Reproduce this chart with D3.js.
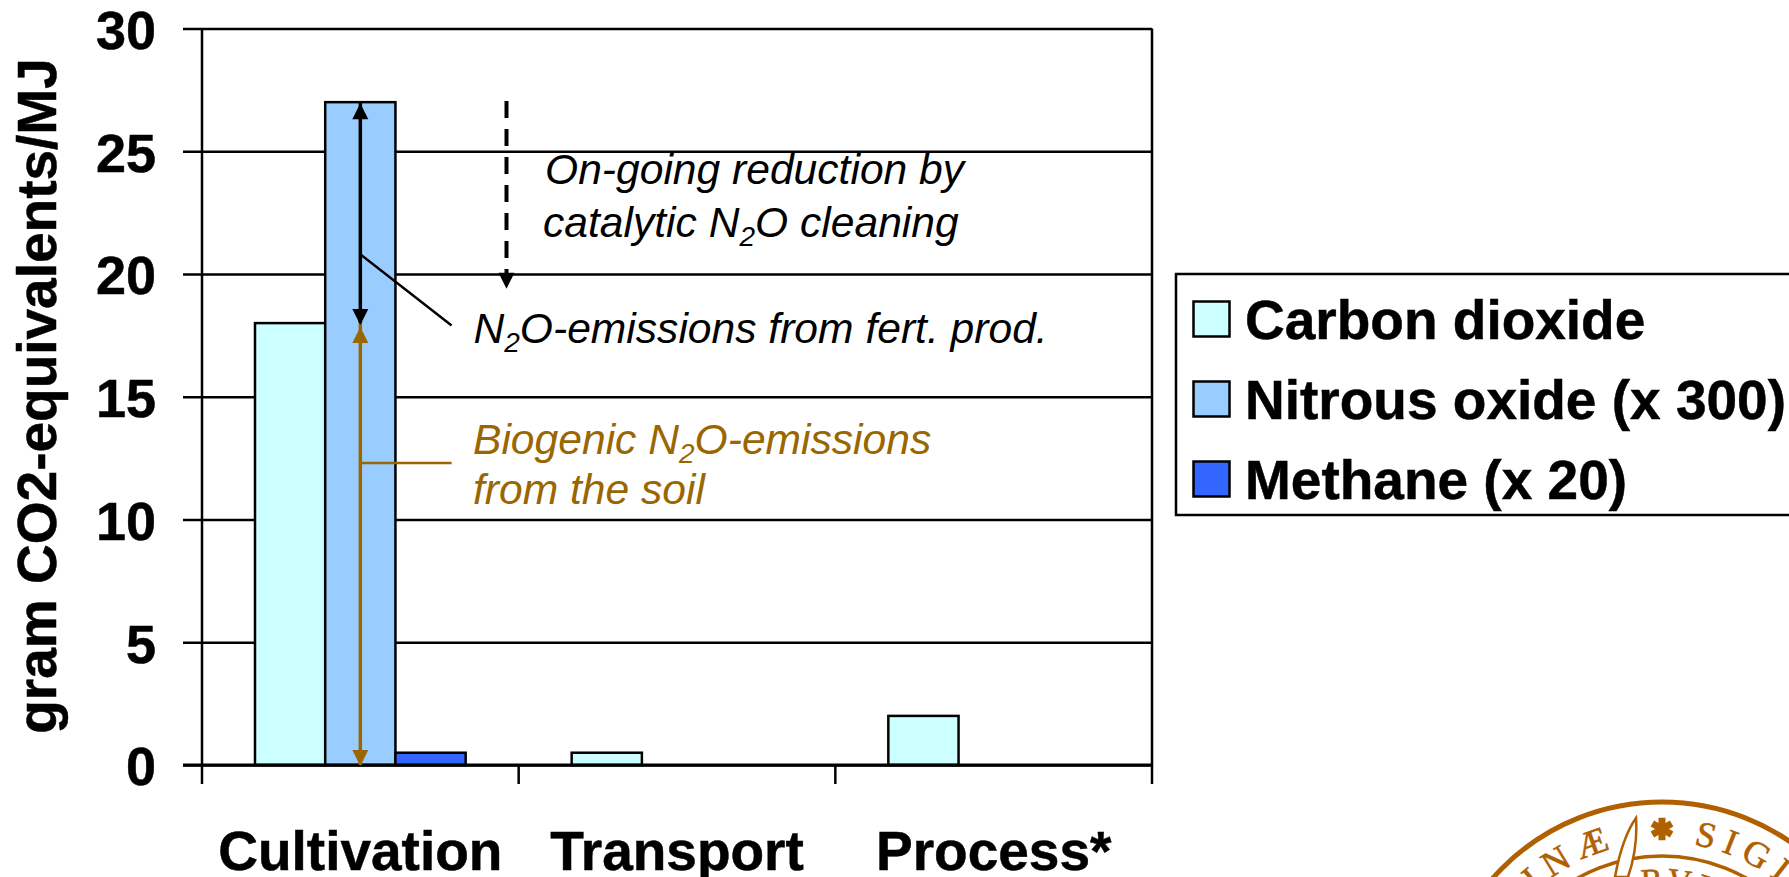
<!DOCTYPE html>
<html>
<head>
<meta charset="utf-8">
<script src="https://cdn.jsdelivr.net/npm/d3@7"></script>
<style>
  html, body { margin: 0; padding: 0; background: #fff; overflow: hidden; }
  svg { display: block; }
  text { font-family: "Liberation Sans", Arial, sans-serif; }
  .bold { font-weight: bold; stroke: #000; stroke-width: 0.5px; }
  .note { font-style: italic; font-size: 42.6px; }
</style>
</head>
<body>
<div class="chart"></div>
<script>
const categories = ["Cultivation", "Transport", "Process*"];
const seriesNames = ["Carbon dioxide", "Nitrous oxide (x 300)", "Methane (x 20)"];
const seriesKeys = ["co2", "n2o", "ch4"];
const co2Values = [18, 0.5, 2];
const n2oValues = [27, 0, 0];
const ch4Values = [0.5, 0, 0];
const yTicks = [0, 5, 10, 15, 20, 25, 30];
const yTitle = "gram CO2-equivalents/MJ";
const colors = ["#CCFFFF", "#99CCFF", "#3366FF"];
const brown = "#996600";

const width = 1789, height = 877;
const margin = { top: 28.5, right: 637, bottom: 112, left: 202 };

const svg = d3.select(".chart").append("svg")
    .attr("width", width)
    .attr("height", height);

const x0 = d3.scaleBand()
    .domain(categories)
    .range([margin.left, width - margin.right]);

const x1 = d3.scaleBand()
    .domain(seriesKeys)
    .range([53, x0.bandwidth() - 53]);

const y = d3.scaleLinear()
    .domain([0, 30])
    .range([height - margin.bottom, margin.top]);

const plotRight = width - margin.right;
const plotBottom = y(0);

// y axis + grid
svg.append("g")
    .attr("transform", `translate(${margin.left},0)`)
    .call(d3.axisLeft(y).tickValues(yTicks).tickSize(19).tickPadding(27))
    .call(g => g.select(".domain").remove())
    .call(g => g.selectAll(".tick line")
        .attr("stroke", "#000")
        .attr("stroke-width", 2.5))
    .call(g => g.selectAll(".tick line").clone()
        .attr("x1", 0)
        .attr("x2", plotRight - margin.left))
    .call(g => g.selectAll(".tick text")
        .attr("class", "bold")
        .attr("fill", "#000")
        .attr("dy", "0.37em")
        .style("font-size", "54px"));

// frame
svg.append("path")
    .attr("d", `M${margin.left},${y(30)}V${plotBottom}M${plotRight},${y(30)}V${plotBottom}`)
    .attr("stroke", "#000")
    .attr("stroke-width", 2.5);

// bars
const seriesValues = [co2Values, n2oValues, ch4Values];
const barData = [];
categories.forEach((c, i) => seriesKeys.forEach((k, j) => {
    if (seriesValues[j][i] > 0) barData.push({ cat: c, key: k, color: colors[j], value: seriesValues[j][i] });
}));

svg.append("g")
    .selectAll("rect")
    .data(barData)
    .join("rect")
    .attr("x", d => x0(d.cat) + x1(d.key))
    .attr("y", d => y(d.value))
    .attr("width", x1.bandwidth())
    .attr("height", d => plotBottom - y(d.value))
    .attr("fill", d => d.color)
    .attr("stroke", "#000")
    .attr("stroke-width", 2.5);

// x axis, ticks sit on the band edges
svg.append("g")
    .attr("transform", `translate(0,${plotBottom})`)
    .call(d3.axisBottom(x0).tickSize(0).tickPadding(66))
    .call(g => g.select(".domain").remove())
    .call(g => g.selectAll(".tick text")
        .attr("class", "bold")
        .attr("fill", "#000")
        .attr("dy", "0.71em")
        .style("font-size", "55px"));

svg.append("g")
    .selectAll("line")
    .data(categories.map(c => x0(c)).concat([plotRight]))
    .join("line")
    .attr("x1", d => d)
    .attr("x2", d => d)
    .attr("y1", plotBottom)
    .attr("y2", plotBottom + 19)
    .attr("stroke", "#000")
    .attr("stroke-width", 2.5);

svg.append("line")
    .attr("x1", margin.left - 19)
    .attr("x2", plotRight)
    .attr("y1", plotBottom)
    .attr("y2", plotBottom)
    .attr("stroke", "#000")
    .attr("stroke-width", 3);

// y title
svg.append("text")
    .attr("class", "bold")
    .attr("transform", `translate(55.5,${(62 + 730) / 2}) rotate(-90)`)
    .attr("text-anchor", "middle")
    .style("font-size", "55px")
    .text(yTitle);

// annotations
function arrowHead(px, tipY, dir, color) {
    const p = d3.path();
    p.moveTo(px, tipY);
    p.lineTo(px - 8, tipY - dir * 16);
    p.lineTo(px + 8, tipY - dir * 16);
    p.closePath();
    svg.append("path").attr("d", p).attr("fill", color);
}

const arrowX = x0("Cultivation") + x1("n2o") + x1.bandwidth() / 2;
const splitTop = 27, splitMid = 18;
const leaderEnd = 451.6;

svg.append("line")
    .attr("x1", arrowX).attr("x2", arrowX)
    .attr("y1", y(splitMid)).attr("y2", plotBottom)
    .attr("stroke", brown).attr("stroke-width", 3.5);
arrowHead(arrowX, y(splitMid) + 4, -1, brown);
arrowHead(arrowX, plotBottom + 1, 1, brown);

svg.append("line")
    .attr("x1", arrowX).attr("x2", arrowX)
    .attr("y1", y(splitTop)).attr("y2", y(splitMid))
    .attr("stroke", "#000").attr("stroke-width", 3.5);
arrowHead(arrowX, y(splitTop) + 1, -1, "#000");
arrowHead(arrowX, y(splitMid) + 2, 1, "#000");

svg.append("line")
    .attr("x1", arrowX).attr("x2", leaderEnd)
    .attr("y1", y(20.8)).attr("y2", y(17.9))
    .attr("stroke", "#000").attr("stroke-width", 2.5);

svg.append("line")
    .attr("x1", arrowX).attr("x2", leaderEnd)
    .attr("y1", y(12.3)).attr("y2", y(12.3))
    .attr("stroke", brown).attr("stroke-width", 2.5);

const dashX = 506.5;
svg.append("line")
    .attr("x1", dashX).attr("x2", dashX)
    .attr("y1", y(27.05)).attr("y2", y(20))
    .attr("stroke", "#000").attr("stroke-width", 4)
    .attr("stroke-dasharray", "17 11");
arrowHead(dashX, y(19.4), 1, "#000");

function note(px, py, color, parts) {
    const t = svg.append("text")
        .attr("class", "note")
        .attr("x", px)
        .attr("y", py)
        .attr("fill", color);
    parts.forEach(s => {
        if (s === "2") {
            t.append("tspan").attr("dy", 9).style("font-size", "28px").text(s);
        } else {
            const ts = t.append("tspan").text(s);
            if (t.selectAll("tspan").size() > 1) ts.attr("dy", -9);
        }
    });
}

note(545, 184, "#000", ["On-going reduction by"]);
note(543, 237, "#000", ["catalytic N", "2", "O cleaning"]);
note(473.5, 343, "#000", ["N", "2", "O-emissions from fert. prod."]);
note(473, 454, brown, ["Biogenic N", "2", "O-emissions"]);
note(473, 504, brown, ["from the soil"]);

// legend
svg.append("rect")
    .attr("x", 1176)
    .attr("y", 274)
    .attr("width", width)
    .attr("height", 241)
    .attr("fill", "#fff")
    .attr("stroke", "#000")
    .attr("stroke-width", 2.5);

const legendY = d3.scalePoint().domain(seriesNames).range([319, 479]);

const legend = svg.append("g")
    .selectAll("g")
    .data(seriesNames)
    .join("g")
    .attr("transform", d => `translate(1193.5,${legendY(d)})`);

legend.append("rect")
    .attr("y", -17.5)
    .attr("width", 36)
    .attr("height", 35)
    .attr("fill", (d, i) => colors[i])
    .attr("stroke", "#000")
    .attr("stroke-width", 2.5);

legend.append("text")
    .attr("class", "bold")
    .attr("x", 51.5)
    .attr("y", 20)
    .style("font-size", "55px")
    .text(d => d);

// seal, cut off by the page edge
const sealColor = "#B06000";
const sealX = 1662, sealY = 1028;
const seal = svg.append("g").attr("transform", `translate(${sealX},${sealY})`);

[[226, 5], [172, 3.5]].forEach(([r, w]) => {
    seal.append("circle")
        .attr("r", r)
        .attr("fill", "none")
        .attr("stroke", sealColor)
        .attr("stroke-width", w);
});

function sealArc(id, r, a0, a1) {
    const p = d3.path();
    p.arc(0, 0, r, a0 - Math.PI / 2, a1 - Math.PI / 2, false);
    seal.append("path").attr("id", id).attr("d", p).attr("fill", "none");
}

function sealText(id, str, anchor, size, spacing) {
    seal.append("text")
        .attr("fill", sealColor)
        .attr("stroke", sealColor)
        .attr("stroke-width", 0.6)
        .attr("text-anchor", anchor)
        .style("font-family", '"Liberation Serif", serif')
        .style("font-size", size + "px")
        .style("letter-spacing", spacing + "px")
        .append("textPath")
        .attr("href", "#" + id)
        .attr("startOffset", anchor === "end" ? "100%" : "0%")
        .text(str);
}

sealArc("arcLeft", 186, -1.2, -0.23);
sealArc("arcRight", 186, 0.17, 1.2);
sealArc("arcInner", 137, -0.15, 0.8);
sealText("arcLeft", "LINÆ", "end", 36, 9);
sealText("arcRight", "SIGILLVM", "start", 36, 8);
sealText("arcInner", "RVI", "start", 33, 5);

seal.append("path")
    .attr("d", d3.symbol(d3.symbolAsterisk, 350))
    .attr("transform", "translate(0,-199)")
    .attr("fill", "none")
    .attr("stroke", sealColor)
    .attr("stroke-width", 7);

const sword = d3.path();
sword.moveTo(-26, -210);
sword.quadraticCurveTo(-24, -180, -34, -151);
sword.lineTo(-47, -151);
sword.quadraticCurveTo(-40, -190, -26, -210);
sword.closePath();
seal.append("path")
    .attr("d", sword)
    .attr("fill", "#fff")
    .attr("stroke", sealColor)
    .attr("stroke-width", 2.5);
</script>
</body>
</html>
